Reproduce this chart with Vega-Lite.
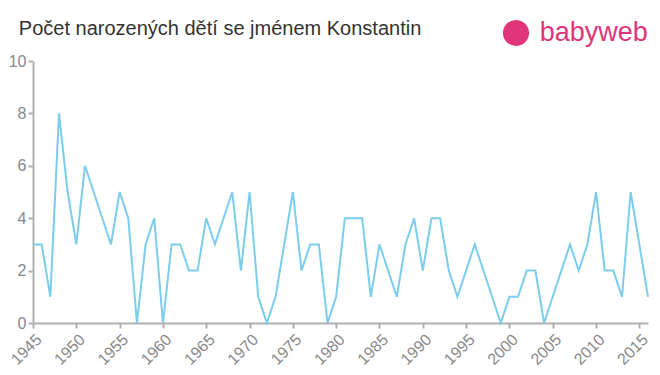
{
  "$schema": "https://vega.github.io/schema/vega-lite/v6.json",
  "width": 615,
  "height": 262,
  "autosize": {"type": "none"},
  "padding": {"left": 33, "top": 61, "right": 12, "bottom": 52},
  "background": "white",
  "title": {
    "text": "Počet narozených dětí se jménem Konstantin",
    "anchor": "start",
    "dx": 11,
    "dy": 30,
    "offset": 10,
    "font": "Liberation Sans",
    "fontSize": 20,
    "fontWeight": "normal",
    "color": "#333333"
  },
  "config": {
    "view": {"stroke": null},
    "axis": {"labelFont": "Liberation Sans", "titleFont": "Liberation Sans"}
  },
  "layer": [
    {
      "data": {
        "values": [
          {"year": 1945, "count": 3}, {"year": 1946, "count": 3}, {"year": 1947, "count": 1},
          {"year": 1948, "count": 8}, {"year": 1949, "count": 5}, {"year": 1950, "count": 3},
          {"year": 1951, "count": 6}, {"year": 1952, "count": 5}, {"year": 1953, "count": 4},
          {"year": 1954, "count": 3}, {"year": 1955, "count": 5}, {"year": 1956, "count": 4},
          {"year": 1957, "count": 0}, {"year": 1958, "count": 3}, {"year": 1959, "count": 4},
          {"year": 1960, "count": 0}, {"year": 1961, "count": 3}, {"year": 1962, "count": 3},
          {"year": 1963, "count": 2}, {"year": 1964, "count": 2}, {"year": 1965, "count": 4},
          {"year": 1966, "count": 3}, {"year": 1967, "count": 4}, {"year": 1968, "count": 5},
          {"year": 1969, "count": 2}, {"year": 1970, "count": 5}, {"year": 1971, "count": 1},
          {"year": 1972, "count": 0}, {"year": 1973, "count": 1}, {"year": 1974, "count": 3},
          {"year": 1975, "count": 5}, {"year": 1976, "count": 2}, {"year": 1977, "count": 3},
          {"year": 1978, "count": 3}, {"year": 1979, "count": 0}, {"year": 1980, "count": 1},
          {"year": 1981, "count": 4}, {"year": 1982, "count": 4}, {"year": 1983, "count": 4},
          {"year": 1984, "count": 1}, {"year": 1985, "count": 3}, {"year": 1986, "count": 2},
          {"year": 1987, "count": 1}, {"year": 1988, "count": 3}, {"year": 1989, "count": 4},
          {"year": 1990, "count": 2}, {"year": 1991, "count": 4}, {"year": 1992, "count": 4},
          {"year": 1993, "count": 2}, {"year": 1994, "count": 1}, {"year": 1995, "count": 2},
          {"year": 1996, "count": 3}, {"year": 1997, "count": 2}, {"year": 1998, "count": 1},
          {"year": 1999, "count": 0}, {"year": 2000, "count": 1}, {"year": 2001, "count": 1},
          {"year": 2002, "count": 2}, {"year": 2003, "count": 2}, {"year": 2004, "count": 0},
          {"year": 2005, "count": 1}, {"year": 2006, "count": 2}, {"year": 2007, "count": 3},
          {"year": 2008, "count": 2}, {"year": 2009, "count": 3}, {"year": 2010, "count": 5},
          {"year": 2011, "count": 2}, {"year": 2012, "count": 2}, {"year": 2013, "count": 1},
          {"year": 2014, "count": 5}, {"year": 2015, "count": 3}, {"year": 2016, "count": 1}
        ]
      },
      "mark": {"type": "line", "color": "#7ccdec", "strokeWidth": 2},
      "encoding": {
        "x": {
          "field": "year",
          "type": "quantitative",
          "scale": {"domain": [1945, 2016], "nice": false, "zero": false},
          "axis": {
            "title": null,
            "values": [1945, 1950, 1955, 1960, 1965, 1970, 1975, 1980, 1985, 1990, 1995, 2000, 2005, 2010, 2015],
            "format": "d",
            "grid": false,
            "labelAngle": -45,
            "labelAlign": "right",
            "labelBaseline": "top",
            "labelFontSize": 16,
            "labelColor": "#888888",
            "labelPadding": 3,
            "domainColor": "#b0b0b0",
            "domainWidth": 2,
            "tickColor": "#b0b0b0",
            "tickWidth": 2,
            "tickSize": 5,
            "labelOverlap": false,
            "labelFlush": false
          }
        },
        "y": {
          "field": "count",
          "type": "quantitative",
          "scale": {"domain": [0, 10], "nice": false},
          "axis": {
            "title": null,
            "values": [0, 2, 4, 6, 8, 10],
            "grid": false,
            "labelFontSize": 16,
            "labelColor": "#888888",
            "labelPadding": 2,
            "domainColor": "#b0b0b0",
            "domainWidth": 2,
            "tickColor": "#b0b0b0",
            "tickWidth": 2,
            "tickSize": 5
          }
        }
      }
    },
    {
      "data": {"values": [{"year": 2000.76, "count": 11.07}]},
      "mark": {"type": "point", "shape": "circle", "filled": true, "size": 680, "color": "#e0357a", "opacity": 1, "clip": false},
      "encoding": {
        "x": {"field": "year", "type": "quantitative"},
        "y": {"field": "count", "type": "quantitative"}
      }
    },
    {
      "data": {"values": [{"year": 2003.5, "count": 11.07, "label": "babyweb"}]},
      "mark": {"type": "text", "align": "left", "baseline": "middle", "font": "Liberation Sans", "fontSize": 27, "color": "#e0357a", "clip": false},
      "encoding": {
        "x": {"field": "year", "type": "quantitative"},
        "y": {"field": "count", "type": "quantitative"},
        "text": {"field": "label"}
      }
    }
  ]
}
